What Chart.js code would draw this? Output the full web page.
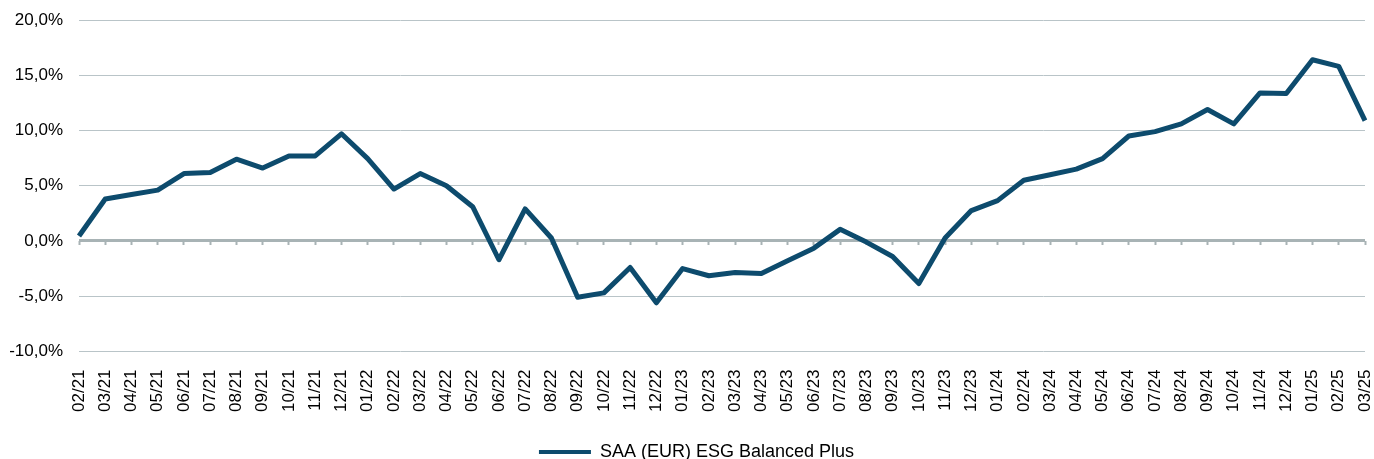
<!DOCTYPE html>
<html>
<head>
<meta charset="utf-8">
<script src="https://cdn.jsdelivr.net/npm/chart.js@4"></script>
<style>
  html, body { margin: 0; padding: 0; background: #fff; }
  #wrap { width: 1374px; height: 459px; position: relative; }
</style>
</head>
<body>
<div id="wrap"><canvas id="perf"></canvas></div>
<script>
// ─── data ────────────────────────────────────────────────────────────────────
const MONTHS = [
  '02/21','03/21','04/21','05/21','06/21','07/21','08/21','09/21','10/21','11/21','12/21',
  '01/22','02/22','03/22','04/22','05/22','06/22','07/22','08/22','09/22','10/22','11/22','12/22',
  '01/23','02/23','03/23','04/23','05/23','06/23','07/23','08/23','09/23','10/23','11/23','12/23',
  '01/24','02/24','03/24','04/24','05/24','06/24','07/24','08/24','09/24','10/24','11/24','12/24',
  '01/25','02/25','03/25',
];

const SERIES_LABEL = 'SAA (EUR) ESG Balanced Plus';
const SERIES_VALUES = [
  0.45, 3.8, 4.2, 4.6, 6.1, 6.2, 7.4, 6.6, 7.7, 7.7, 9.7,
  7.45, 4.7, 6.1, 5.0, 3.1, -1.7, 2.9, 0.27, -5.1, -4.7, -2.4, -5.6,
  -2.5, -3.15, -2.85, -2.95, -1.8, -0.65, 1.05, -0.1, -1.4, -3.85, 0.27, 2.75,
  3.65, 5.5, 6.0, 6.5, 7.45, 9.5, 9.9, 10.6, 11.9, 10.6, 13.4, 13.35,
  16.4, 15.8, 10.9,
];

const Y_MIN = -10, Y_MAX = 20, Y_STEP = 5;

// ─── style ───────────────────────────────────────────────────────────────────
const FONT       = 'Arial, "Liberation Sans", sans-serif';
const LINE_COLOR = '#0d4b6d';
const GRID_COLOR = '#b9c4c8';
const ZERO_COLOR = '#a8b3b5';

const fmtPct = v => v.toFixed(1).replace('.', ',') + '%';

Chart.defaults.font.family = FONT;
Chart.defaults.color = '#000';

// nudge the legend item a bit to the right, like the original
const legendShift = {
  id: 'legendShift',
  afterLayout(chart) {
    if (chart.legend) { chart.legend.left += 14; chart.legend.right += 14; }
  },
};

new Chart(document.getElementById('perf').getContext('2d'), {
  type: 'line',
  data: {
    labels: MONTHS,
    datasets: [{
      label: SERIES_LABEL,
      data: SERIES_VALUES,
      borderColor: LINE_COLOR,
      backgroundColor: LINE_COLOR,
      borderWidth: 5,
      borderJoinStyle: 'round',
      pointRadius: 0,
      tension: 0,
      fill: false,
      xAxisID: 'x',
    }],
  },
  plugins: [legendShift],
  options: {
    responsive: true, maintainAspectRatio: false, animation: false,
    layout: { padding: { top: 20, right: 9, bottom: -12, left: 0 } },
    plugins: {
      tooltip: { enabled: false },
      legend: {
        position: 'bottom',
        labels: {
          font: { size: 18 },
          boxWidth: 52, boxHeight: 4, padding: 0,
          generateLabels: chart =>
            Chart.defaults.plugins.legend.labels.generateLabels(chart)
              .map(l => ({ ...l, lineWidth: 0, fillStyle: LINE_COLOR })),
        },
      },
    },
    scales: {
      x: {
        position: 'bottom',
        offset: false,
        grid: { display: false },
        border: { display: false },
        ticks: { font: { size: 17 }, minRotation: 90, maxRotation: 90, padding: 10, autoSkip: false },
        afterFit: s => { s.height += 21; s.paddingLeft = 0; s.paddingRight = 0; },
      },
      // zero line tick marks (axis crossing at 0)
      x0: {
        type: 'category',
        position: { y: 0 },
        offset: false,
        border: { display: false },
        grid: { drawOnChartArea: false, drawTicks: true, tickLength: 4, tickWidth: 2, tickColor: ZERO_COLOR },
        ticks: { display: false },
        afterFit: s => { s.height = 0; s.paddingLeft = 0; s.paddingRight = 0; },
      },
      y: {
        min: Y_MIN, max: Y_MAX,
        border: { display: false },
        grid: {
          drawTicks: false,
          color: c => c.tick.value === 0 ? ZERO_COLOR : GRID_COLOR,
          lineWidth: c => c.tick.value === 0 ? 3 : 1,
        },
        ticks: { stepSize: Y_STEP, font: { size: 17 }, padding: 16, callback: v => fmtPct(v) },
        afterFit: s => { s.width = 79; s.paddingTop = 0; s.paddingBottom = 0; },
      },
    },
  },
});
</script>
</body>
</html>
